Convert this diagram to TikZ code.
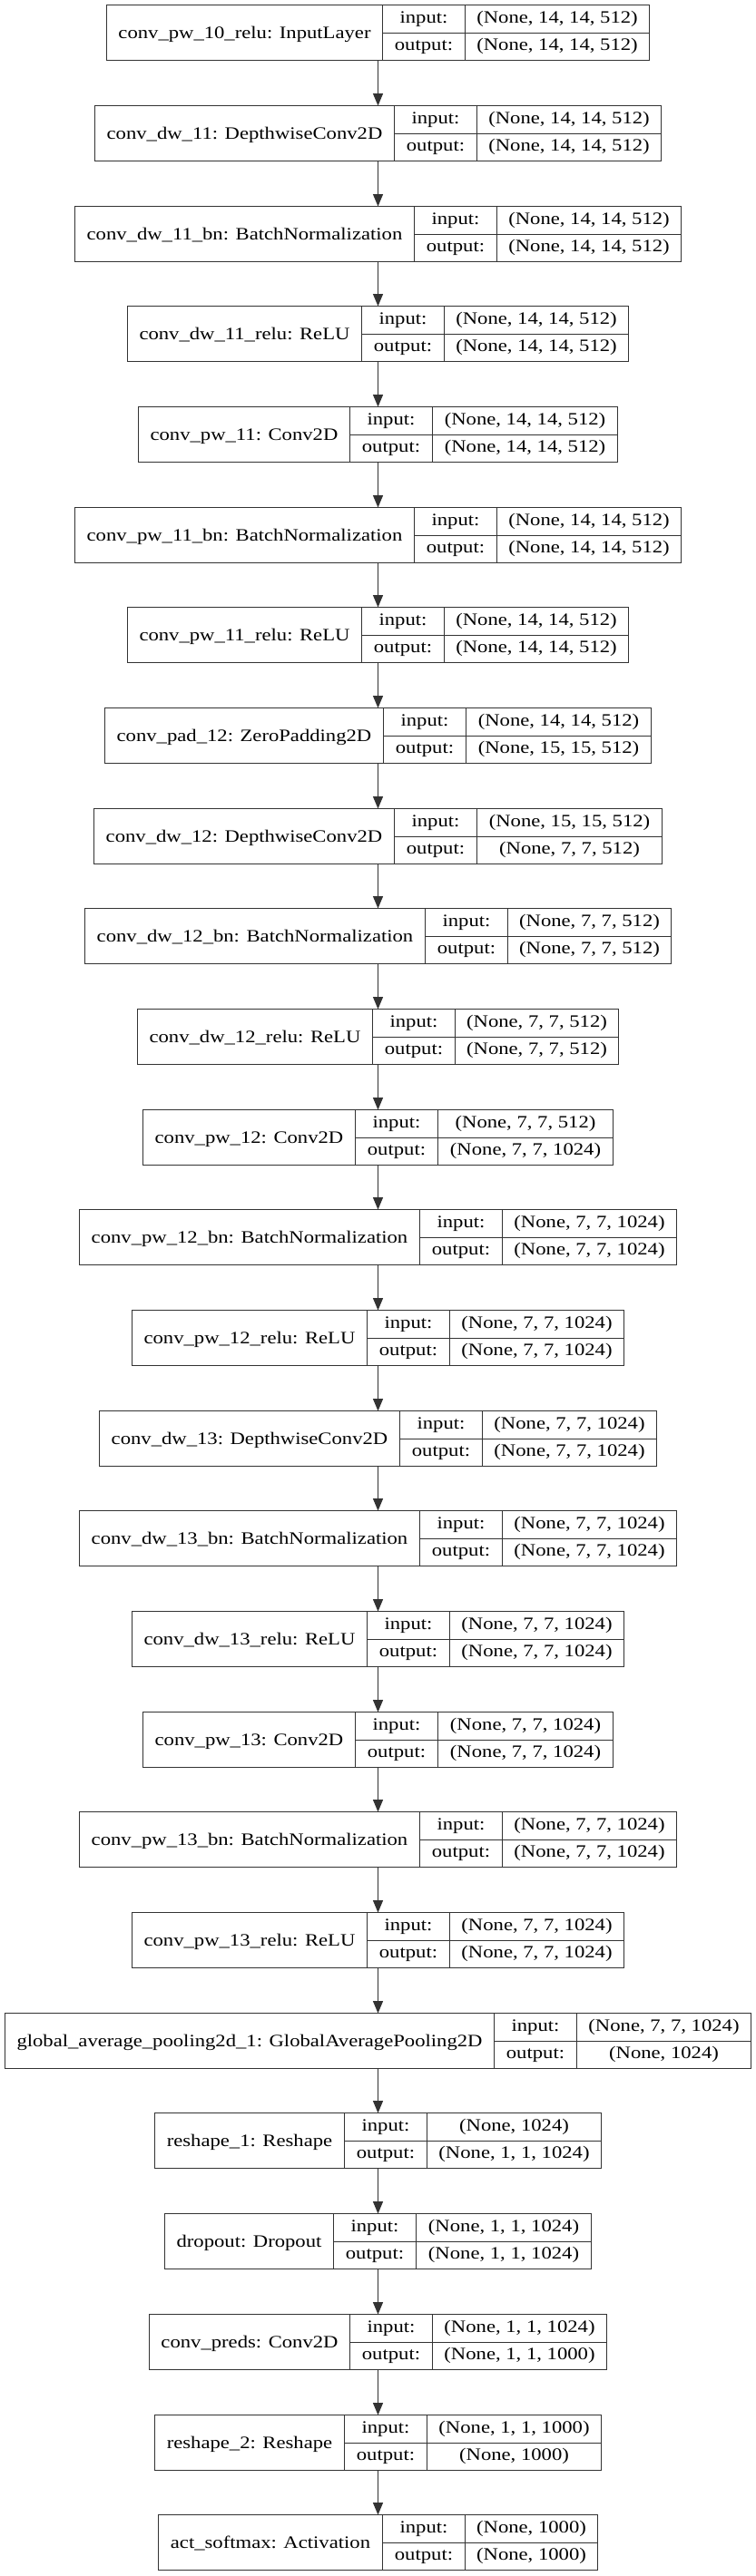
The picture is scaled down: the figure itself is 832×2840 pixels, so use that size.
\documentclass[tikz,border=0pt]{standalone}
\usepackage{fontspec}
\setmainfont{Liberation Serif}[FakeStretch=1.18]
\usetikzlibrary{arrows.meta}
\newlength\lwa \newlength\lwb \newlength\lwc \newlength\lwt \newlength\ltmp \newlength\padx
\setlength\padx{9.9pt}
\newcommand\lfont{\fontsize{14.4pt}{17pt}\selectfont}
\font\measfont="Liberation Serif:extend=1.18" at 14.4pt
\tikzset{
  layerbox/.style={draw=black!80, line width=0.75pt, rectangle, inner sep=0pt, outer sep=0pt, minimum height=45.75pt},
  cellrule/.style={draw=black!80, line width=0.75pt},
  txt/.style={font=\lfont, inner sep=0pt, outer sep=0pt, text=black},
  conn/.style={draw=black!80, line width=0.75pt, -{Triangle[length=10pt, width=8.2pt]}}
}
\newcommand\kerasrow[5]{%
  \settowidth\lwa{\measfont #3}\addtolength\lwa{\padx}\addtolength\lwa{\padx}%
  \settowidth\lwb{\measfont output:}\addtolength\lwb{\padx}\addtolength\lwb{\padx}%
  \settowidth\lwc{\measfont #4}\settowidth\ltmp{\measfont #5}%
  \ifdim\ltmp>\lwc \lwc=\ltmp\fi\addtolength\lwc{\padx}\addtolength\lwc{\padx}%
  \lwt=\lwa\addtolength\lwt{\lwb}\addtolength\lwt{\lwc}%
  \pgfmathsetmacro\ytop{floor(5.7+#2*110.68)+0.5}%
  \pgfmathsetmacro\ybot{\ytop+61}%
  \pgfmathsetmacro\ymid{\ytop+31}%
  \pgfmathsetmacro\hw{round(\lwt/1.5)}%
  \pgfmathsetmacro\xl{416.5-\hw}%
  \pgfmathsetmacro\xr{416.5+\hw}%
  \pgfmathsetmacro\xa{floor(\xl+\lwa/0.75)+0.5}%
  \pgfmathsetmacro\xb{floor(\xa+\lwb/0.75)+0.5}%
  \pgfmathsetmacro\bw{2*\hw*0.75}%
  \node[layerbox, minimum width=\bw pt, anchor=north] (#1) at (416.5,\ytop) {};
  \draw[cellrule] (\xa,\ytop) -- (\xa,\ybot);
  \draw[cellrule] (\xb,\ytop) -- (\xb,\ybot);
  \draw[cellrule] (\xa,\ymid) -- (\xr,\ymid);
  \node[txt, anchor=base] (#1-n) at ({(\xl+\xa)/2},{\ytop+30.5+6.5}) {#3};
  \node[txt, anchor=base] (#1-il) at ({(\xa+\xb)/2},{\ytop+15.5+4.5}) {input:};
  \node[txt, anchor=base] (#1-ol) at ({(\xa+\xb)/2},{\ymid+15+4.3}) {output:};
  \node[txt, anchor=base] (#1-is) at ({(\xb+\xr)/2},{\ytop+15.5+4.5}) {#4};
  \node[txt, anchor=base] (#1-os) at ({(\xb+\xr)/2},{\ymid+15+4.3}) {#5};
}
\begin{document}
\begin{tikzpicture}[x=0.75pt, y=-0.75pt]
\useasboundingbox[fill=white] (0,0) rectangle (832,2840);
\kerasrow{l1}{0}{conv\_pw\_10\_relu: InputLayer}{(None, 14, 14, 512)}{(None, 14, 14, 512)}
\kerasrow{l2}{1}{conv\_dw\_11: DepthwiseConv2D}{(None, 14, 14, 512)}{(None, 14, 14, 512)}
\kerasrow{l3}{2}{conv\_dw\_11\_bn: BatchNormalization}{(None, 14, 14, 512)}{(None, 14, 14, 512)}
\kerasrow{l4}{3}{conv\_dw\_11\_relu: ReLU}{(None, 14, 14, 512)}{(None, 14, 14, 512)}
\kerasrow{l5}{4}{conv\_pw\_11: Conv2D}{(None, 14, 14, 512)}{(None, 14, 14, 512)}
\kerasrow{l6}{5}{conv\_pw\_11\_bn: BatchNormalization}{(None, 14, 14, 512)}{(None, 14, 14, 512)}
\kerasrow{l7}{6}{conv\_pw\_11\_relu: ReLU}{(None, 14, 14, 512)}{(None, 14, 14, 512)}
\kerasrow{l8}{7}{conv\_pad\_12: ZeroPadding2D}{(None, 14, 14, 512)}{(None, 15, 15, 512)}
\kerasrow{l9}{8}{conv\_dw\_12: DepthwiseConv2D}{(None, 15, 15, 512)}{(None, 7, 7, 512)}
\kerasrow{l10}{9}{conv\_dw\_12\_bn: BatchNormalization}{(None, 7, 7, 512)}{(None, 7, 7, 512)}
\kerasrow{l11}{10}{conv\_dw\_12\_relu: ReLU}{(None, 7, 7, 512)}{(None, 7, 7, 512)}
\kerasrow{l12}{11}{conv\_pw\_12: Conv2D}{(None, 7, 7, 512)}{(None, 7, 7, 1024)}
\kerasrow{l13}{12}{conv\_pw\_12\_bn: BatchNormalization}{(None, 7, 7, 1024)}{(None, 7, 7, 1024)}
\kerasrow{l14}{13}{conv\_pw\_12\_relu: ReLU}{(None, 7, 7, 1024)}{(None, 7, 7, 1024)}
\kerasrow{l15}{14}{conv\_dw\_13: DepthwiseConv2D}{(None, 7, 7, 1024)}{(None, 7, 7, 1024)}
\kerasrow{l16}{15}{conv\_dw\_13\_bn: BatchNormalization}{(None, 7, 7, 1024)}{(None, 7, 7, 1024)}
\kerasrow{l17}{16}{conv\_dw\_13\_relu: ReLU}{(None, 7, 7, 1024)}{(None, 7, 7, 1024)}
\kerasrow{l18}{17}{conv\_pw\_13: Conv2D}{(None, 7, 7, 1024)}{(None, 7, 7, 1024)}
\kerasrow{l19}{18}{conv\_pw\_13\_bn: BatchNormalization}{(None, 7, 7, 1024)}{(None, 7, 7, 1024)}
\kerasrow{l20}{19}{conv\_pw\_13\_relu: ReLU}{(None, 7, 7, 1024)}{(None, 7, 7, 1024)}
\kerasrow{l21}{20}{global\_average\_pooling2d\_1: GlobalAveragePooling2D}{(None, 7, 7, 1024)}{(None, 1024)}
\kerasrow{l22}{21}{reshape\_1: Reshape}{(None, 1024)}{(None, 1, 1, 1024)}
\kerasrow{l23}{22}{dropout: Dropout}{(None, 1, 1, 1024)}{(None, 1, 1, 1024)}
\kerasrow{l24}{23}{conv\_preds: Conv2D}{(None, 1, 1, 1024)}{(None, 1, 1, 1000)}
\kerasrow{l25}{24}{reshape\_2: Reshape}{(None, 1, 1, 1000)}{(None, 1000)}
\kerasrow{l26}{25}{act\_softmax: Activation}{(None, 1000)}{(None, 1000)}
\foreach \a/\b in {l1/l2,l2/l3,l3/l4,l4/l5,l5/l6,l6/l7,l7/l8,l8/l9,l9/l10,l10/l11,l11/l12,l12/l13,l13/l14,l14/l15,l15/l16,l16/l17,l17/l18,l18/l19,l19/l20,l20/l21,l21/l22,l22/l23,l23/l24,l24/l25,l25/l26}
  \draw[conn] (\a.south) -- (\b.north);
\end{tikzpicture}
\end{document}
